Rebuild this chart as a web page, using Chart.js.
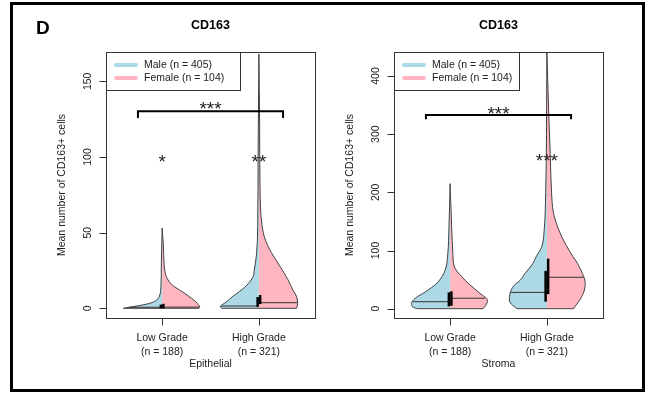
<!DOCTYPE html>
<html>
<head>
<meta charset="utf-8">
<script src="https://cdn.jsdelivr.net/npm/chart.js@4"></script>
<style>
  html, body { margin: 0; padding: 0; background: #fff; }
  #wrap { position: relative; width: 652px; height: 393px; overflow: hidden; }
  #frame { position: absolute; left: 10px; top: 2px; width: 629px; height: 384px; border: 3px solid #000; }
  canvas { position: absolute; top: 0; }
</style>
</head>
<body>
<div id="wrap">
  <canvas id="epi" width="326" height="393" style="left:0"></canvas>
  <canvas id="str" width="326" height="393" style="left:326px"></canvas>
  <div id="frame"></div>
</div>
<script>
// ---- data ----
var MARKER = 'CD163';
var Y_TITLE = 'Mean number of CD163+ cells';
var GROUPS = ['Low Grade', 'High Grade'];
var GROUP_N = [188, 321];
var SEX_LABELS = ['Male (n = 405)', 'Female (n = 104)'];
var TISSUES = ['Epithelial', 'Stroma'];
var EPI_TICKS = [0, 50, 100, 150];
var STR_TICKS = [0, 100, 200, 300, 400];

// violin halves: value levels and relative density (1 = widest)
var EPI_LOW_MALE_Y = [0, 0.7, 1.5, 3.3, 5.5, 8.8, 15, 30, 53];
var EPI_LOW_MALE_D = [1.0, 0.85, 0.66, 0.32, 0.14, 0.06, 0.03, 0.02, 0];
var EPI_LOW_FEMALE_Y = [0, 0.7, 3.3, 6.6, 11, 15.4, 19.8, 25, 35, 43, 53];
var EPI_LOW_FEMALE_D = [0.95, 0.97, 0.91, 0.76, 0.52, 0.26, 0.13, 0.07, 0.04, 0.03, 0];
var EPI_HIGH_MALE_Y = [0, 1, 4, 8, 10, 15, 21, 25, 36, 54, 100, 168];
var EPI_HIGH_MALE_D = [0.95, 1.0, 0.85, 0.67, 0.56, 0.32, 0.15, 0.12, 0.06, 0.03, 0.02, 0];
var EPI_HIGH_FEMALE_Y = [0, 3, 8, 12, 19, 28, 37, 45, 55, 80, 120, 168];
var EPI_HIGH_FEMALE_D = [0.97, 1.0, 0.97, 0.88, 0.75, 0.54, 0.32, 0.17, 0.08, 0.03, 0.02, 0];

var STR_LOW_MALE_Y = [0, 2.4, 9, 18, 29, 44, 66, 95, 140, 215];
var STR_LOW_MALE_D = [0.85, 0.95, 1.0, 0.9, 0.64, 0.34, 0.13, 0.06, 0.03, 0];
var STR_LOW_FEMALE_Y = [0, 6, 14, 26.5, 41, 55, 72, 95, 140, 215];
var STR_LOW_FEMALE_D = [0.85, 0.92, 0.97, 0.77, 0.51, 0.3, 0.11, 0.07, 0.04, 0];
var STR_HIGH_MALE_Y = [0, 8, 15, 27, 40, 49, 61, 78, 89, 107, 135, 200, 300, 440];
var STR_HIGH_MALE_D = [0.77, 0.92, 0.97, 0.95, 0.85, 0.69, 0.56, 0.36, 0.28, 0.13, 0.07, 0.03, 0.01, 0];
var STR_HIGH_FEMALE_Y = [0, 5, 15, 30, 45, 60, 78, 90, 110, 135, 165, 200, 260, 330, 440];
var STR_HIGH_FEMALE_D = [0.69, 0.74, 0.85, 0.96, 0.99, 0.92, 0.79, 0.67, 0.49, 0.31, 0.17, 0.12, 0.09, 0.05, 0];

// medians and interquartile boxes, [low, high] grade
var EPI_MALE_MEDIAN = [0.7, 1.5];
var EPI_FEMALE_MEDIAN = [0.8, 3.7];
var EPI_MALE_BOX = [[0, 2.5], [1, 7.5]];
var EPI_FEMALE_BOX = [[0, 3], [2.8, 8.8]];
var STR_MALE_MEDIAN = [12, 28];
var STR_FEMALE_MEDIAN = [18, 54];
var STR_MALE_BOX = [[4, 28], [12, 65]];
var STR_FEMALE_BOX = [[5, 30], [25, 86]];

// significance marks
var EPI_GROUP_STARS = ['*', '**'];
var EPI_GROUP_STAR_Y = [100, 100];
var STR_GROUP_STARS = ['', '***'];
var STR_GROUP_STAR_Y = [0, 263];
var EPI_BRACKET = [125.7, 130.3, 135];  // foot, bar, label
var STR_BRACKET = [325.5, 333, 344];

// ---- styling ----
var MALE_COLOR = '#ADD8E6';
var FEMALE_COLOR = '#FFB6C1';
var OUTLINE = '#404040';
var HALF_WIDTH = 0.4;
var BOX_OFFSET = 0.013;
var FONT = '"Liberation Sans", Arial, sans-serif';

function widthAt(ys, ds, v) {
  for (var i = 0; i < ys.length - 1; i++) {
    if (v >= ys[i] && v <= ys[i + 1]) {
      var t = (v - ys[i]) / (ys[i + 1] - ys[i]);
      return ds[i] + t * (ds[i + 1] - ds[i]);
    }
  }
  return 0;
}

function halfViolin(center, side, ys, ds, color) {
  var pts = ys.map(function (v, i) { return { x: center + side * HALF_WIDTH * ds[i], y: v }; });
  return {
    data: pts, backgroundColor: color, borderColor: OUTLINE, borderWidth: 1,
    pointRadius: 0, fill: { value: center }, cubicInterpolationMode: 'monotone', order: 3
  };
}

function segment(points, color, width, order) {
  return { data: points, borderColor: color, borderWidth: width, pointRadius: 0, fill: false,
           borderCapStyle: 'butt', order: order };
}

function buildDatasets(p) {
  var out = [];
  for (var g = 0; g < 2; g++) {
    var c = g + 1;
    var mY = p.maleY[g], mD = p.maleD[g], fY = p.femaleY[g], fD = p.femaleD[g];
    out.push(halfViolin(c, -1, mY, mD, MALE_COLOR));
    out.push(halfViolin(c, 1, fY, fD, FEMALE_COLOR));
    out.push(segment([{ x: c - HALF_WIDTH * mD[0], y: mY[0] }, { x: c + HALF_WIDTH * fD[0], y: fY[0] }], OUTLINE, 1, 2));
    var mm = p.maleMedian[g], fm = p.femaleMedian[g];
    out.push(segment([{ x: c - HALF_WIDTH * widthAt(mY, mD, mm), y: mm }, { x: c, y: mm }], '#333', 1, 1));
    out.push(segment([{ x: c, y: fm }, { x: c + HALF_WIDTH * widthAt(fY, fD, fm), y: fm }], '#333', 1, 1));
    out.push(segment([{ x: c - BOX_OFFSET, y: p.maleBox[g][0] }, { x: c - BOX_OFFSET, y: p.maleBox[g][1] }], '#000', 2.5, 0));
    out.push(segment([{ x: c + BOX_OFFSET, y: p.femaleBox[g][0] }, { x: c + BOX_OFFSET, y: p.femaleBox[g][1] }], '#000', 2.5, 0));
  }
  var b = p.bracket;
  out.push(segment([{ x: 0.75, y: b[0] }, { x: 0.75, y: b[1] }, { x: 2.25, y: b[1] }, { x: 2.25, y: b[0] }], '#000', 2, 0));
  return out;
}

// R base-graphics style frame, axes, legend and labels
var rBase = {
  id: 'rBase',
  afterDatasetsDraw: function (chart, args, o) {
    var ctx = chart.ctx, a = chart.chartArea, xs = chart.scales.x, ys = chart.scales.y;
    var L = Math.round(a.left) + 0.5, T = Math.round(a.top) + 0.5;
    var R = Math.round(a.right) + 0.5, B = Math.round(a.bottom) + 0.5;
    ctx.save();
    ctx.strokeStyle = '#333'; ctx.lineWidth = 1;
    ctx.strokeRect(L, T, R - L, B - T);

    ctx.fillStyle = '#222';
    ctx.font = '10.5px ' + FONT;
    // y axis
    ctx.beginPath();
    o.ticks.forEach(function (t) {
      var py = Math.round(ys.getPixelForValue(t)) + 0.5;
      ctx.moveTo(L, py); ctx.lineTo(L - 7, py);
    });
    ctx.stroke();
    o.ticks.forEach(function (t) {
      var py = ys.getPixelForValue(t);
      ctx.save();
      ctx.translate(L - 18, py);
      ctx.rotate(-Math.PI / 2);
      ctx.textAlign = 'center'; ctx.textBaseline = 'middle';
      ctx.fillText(String(t), 0, 0);
      ctx.restore();
    });
    ctx.save();
    ctx.translate(L - 44, (a.top + a.bottom) / 2);
    ctx.rotate(-Math.PI / 2);
    ctx.textAlign = 'center'; ctx.textBaseline = 'middle';
    ctx.fillText(Y_TITLE, 0, 0);
    ctx.restore();

    // x axis
    ctx.beginPath();
    GROUPS.forEach(function (gName, i) {
      var px = Math.round(xs.getPixelForValue(i + 1)) + 0.5;
      ctx.moveTo(px, B); ctx.lineTo(px, B + 7);
    });
    ctx.stroke();
    ctx.textAlign = 'center'; ctx.textBaseline = 'middle';
    GROUPS.forEach(function (gName, i) {
      var px = xs.getPixelForValue(i + 1);
      ctx.fillText(gName, px, a.bottom + 20);
      ctx.fillText('(n = ' + GROUP_N[i] + ')', px, a.bottom + 34);
    });
    ctx.fillText(o.tissue, (a.left + a.right) / 2, a.bottom + 46);

    // title
    ctx.fillStyle = '#000';
    ctx.font = 'bold 12.5px ' + FONT;
    ctx.fillText(MARKER, (a.left + a.right) / 2, 26);
    if (o.panelLetter) {
      ctx.font = 'bold 19px ' + FONT;
      ctx.textAlign = 'left'; ctx.textBaseline = 'alphabetic';
      ctx.fillText(o.panelLetter, 36, 34);
    }

    // legend
    ctx.strokeStyle = '#333'; ctx.lineWidth = 1;
    ctx.strokeRect(L, T, o.legendWidth, 38);
    ctx.font = '10.5px ' + FONT;
    ctx.textAlign = 'left'; ctx.textBaseline = 'middle';
    [MALE_COLOR, FEMALE_COLOR].forEach(function (col, i) {
      var ly = a.top + 13 + i * 13;
      ctx.strokeStyle = col; ctx.lineWidth = 4; ctx.lineCap = 'round';
      ctx.beginPath(); ctx.moveTo(a.left + 10, ly); ctx.lineTo(a.left + 30, ly); ctx.stroke();
      ctx.fillStyle = '#222';
      ctx.fillText(SEX_LABELS[i], a.left + 38, ly);
    });

    // significance stars
    ctx.fillStyle = '#222';
    ctx.font = '19px ' + FONT;
    ctx.textAlign = 'center'; ctx.textBaseline = 'alphabetic';
    o.groupStars.forEach(function (s, i) {
      if (!s) return;
      ctx.fillText(s, xs.getPixelForValue(i + 1), ys.getPixelForValue(o.groupStarY[i]) + 11);
    });
    ctx.fillText('***', xs.getPixelForValue(1.5), ys.getPixelForValue(o.bracket[2]) + 11);
    ctx.restore();
  }
};

function makeChart(id, p, yMin, yMax, padding) {
  return new Chart(document.getElementById(id), {
    type: 'line',
    data: { datasets: buildDatasets(p) },
    plugins: [rBase],
    options: {
      indexAxis: 'y',
      responsive: false,
      animation: false,
      events: [],
      layout: { padding: padding },
      scales: {
        x: { type: 'linear', min: 0.42, max: 2.58, display: false },
        y: { type: 'linear', min: yMin, max: yMax, display: false }
      },
      plugins: {
        legend: { display: false },
        tooltip: { enabled: false },
        rBase: {
          ticks: p.ticks, tissue: p.tissue, legendWidth: p.legendWidth, panelLetter: p.panelLetter,
          groupStars: p.groupStars, groupStarY: p.groupStarY, bracket: p.bracket
        }
      }
    }
  });
}

makeChart('epi', {
  maleY: [EPI_LOW_MALE_Y, EPI_HIGH_MALE_Y], maleD: [EPI_LOW_MALE_D, EPI_HIGH_MALE_D],
  femaleY: [EPI_LOW_FEMALE_Y, EPI_HIGH_FEMALE_Y], femaleD: [EPI_LOW_FEMALE_D, EPI_HIGH_FEMALE_D],
  maleMedian: EPI_MALE_MEDIAN, femaleMedian: EPI_FEMALE_MEDIAN,
  maleBox: EPI_MALE_BOX, femaleBox: EPI_FEMALE_BOX,
  bracket: EPI_BRACKET, groupStars: EPI_GROUP_STARS, groupStarY: EPI_GROUP_STAR_Y,
  ticks: EPI_TICKS, tissue: TISSUES[0], legendWidth: 134, panelLetter: 'D'
}, -6.4, 169.4, { left: 106, right: 11, top: 52, bottom: 75 });

makeChart('str', {
  maleY: [STR_LOW_MALE_Y, STR_HIGH_MALE_Y], maleD: [STR_LOW_MALE_D, STR_HIGH_MALE_D],
  femaleY: [STR_LOW_FEMALE_Y, STR_HIGH_FEMALE_Y], femaleD: [STR_LOW_FEMALE_D, STR_HIGH_FEMALE_D],
  maleMedian: STR_MALE_MEDIAN, femaleMedian: STR_FEMALE_MEDIAN,
  maleBox: STR_MALE_BOX, femaleBox: STR_FEMALE_BOX,
  bracket: STR_BRACKET, groupStars: STR_GROUP_STARS, groupStarY: STR_GROUP_STAR_Y,
  ticks: STR_TICKS, tissue: TISSUES[1], legendWidth: 125, panelLetter: ''
}, -16, 441.3, { left: 68, right: 49, top: 52, bottom: 75 });
</script>
</body>
</html>
